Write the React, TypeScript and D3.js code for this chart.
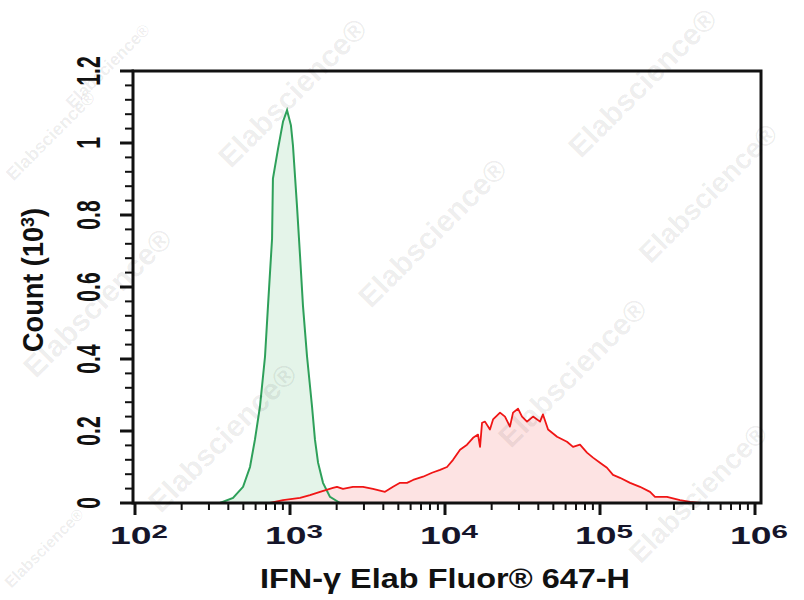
import * as d3 from "d3";

// isotype control (green)
const GREEN_X = [
  353, 429, 498, 552, 594, 640, 690, 721, 766, 776, 838, 902, 957, 1014, 1045,
  1109, 1161, 1213, 1288, 1387, 1449, 1517, 1633, 1811, 2104,
];
const GREEN_Y = [
  0, 0.014, 0.045, 0.1, 0.176, 0.268, 0.407, 0.547, 0.734, 0.901, 0.985, 1.06,
  1.091, 1.049, 0.993, 0.826, 0.686, 0.547, 0.407, 0.268, 0.176, 0.112, 0.056,
  0.017, 0,
];

// IFN-γ stained (red)
const RED_X = [
  743, 902, 1161, 1345, 1563, 1893, 2009, 2197, 2547, 2958, 3428, 4101, 4621,
  5129, 5689, 6223, 7215, 8246, 9290, 10304, 11272, 12503, 13873, 15171, 16330,
  16827, 17338, 18113, 19498, 20417, 22646, 24380, 26242, 27478, 29580, 31405,
  33806, 36983, 41020, 42855, 46238, 52845, 61235, 66988, 74303, 82414, 90157,
  100000, 110917, 121339, 134587, 156340, 181134, 210378, 226464, 270396,
  328095, 380920, 441570,
];
const RED_Y = [
  0, 0.008, 0.014, 0.022, 0.031, 0.042, 0.045, 0.039, 0.045, 0.045, 0.039,
  0.031, 0.045, 0.056, 0.056, 0.064, 0.073, 0.084, 0.092, 0.1, 0.12, 0.148,
  0.162, 0.181, 0.19, 0.156, 0.223, 0.226, 0.204, 0.232, 0.251, 0.24, 0.212,
  0.251, 0.262, 0.24, 0.226, 0.24, 0.226, 0.246, 0.204, 0.184, 0.17, 0.156,
  0.162, 0.14, 0.126, 0.112, 0.098, 0.078, 0.07, 0.056, 0.045, 0.031, 0.017,
  0.017, 0.008, 0.003, 0,
];

const Y_TICKS = [0, 0.2, 0.4, 0.6, 0.8, 1, 1.2];
const Y_LABELS = ["0", "0.2", "0.4", "0.6", "0.8", "1", "1.2"];
const X_DECADES = [2, 3, 4, 5, 6];

// watermark centre x, y and font size
const WM_X = [112, 55, 300, 650, 715, 440, 105, 580, 230, 705, 48];
const WM_Y = [70, 140, 100, 90, 200, 240, 310, 380, 445, 500, 552];
const WM_SIZE = [17, 18, 30, 30, 28, 30, 30, 30, 30, 28, 16];

// ─── Palette ──────────────────────────────────────────────────────────────────

const INK = "#111";
const GREEN = "#2ea05a";
const GREEN_FILL = "#e4f4e9";
const RED = "#f01515";
const RED_FILL = "#fde3e3";
const FONT = "'Liberation Sans', Arial, sans-serif";

// ─── Component ────────────────────────────────────────────────────────────────

export default function App() {
  const W = 804,
    H = 600;
  const left = 135,
    right = 755,
    top = 71,
    bottom = 503;

  const x = d3.scaleLog().domain([1e2, 1e6]).range([left, right]);
  const y = d3.scaleLinear().domain([0, 1.2]).range([bottom, top]);

  const green = GREEN_X.map((v, i) => [v, GREEN_Y[i]] as [number, number]);
  const red = RED_X.map((v, i) => [v, RED_Y[i]] as [number, number]);

  const area = d3
    .area<[number, number]>()
    .x((d) => x(d[0]))
    .y0(y(0))
    .y1((d) => y(d[1]));
  const line = d3
    .line<[number, number]>()
    .x((d) => x(d[0]))
    .y((d) => y(d[1]));

  const yMinor = d3.range(0, 31).map((i) => i * 0.04).filter((_, i) => i % 5 !== 0);
  const xMinor = d3
    .range(2, 6)
    .flatMap((e) => d3.range(2, 10).map((k) => k * Math.pow(10, e)));

  return (
    <svg
      width={W}
      height={H}
      style={{ position: "absolute", left: 0, top: 0, background: "#fff" }}
      fontFamily={FONT}
    >
      {/* histograms */}
      <path d={area(green)!} fill={GREEN_FILL} />
      <path d={area(red)!} fill={RED_FILL} />
      <path d={line(green)!} fill="none" stroke={GREEN} strokeWidth={2} />
      <path d={line(red)!} fill="none" stroke={RED} strokeWidth={1.8} strokeLinejoin="round" />

      {/* frame */}
      <rect
        x={133}
        y={top}
        width={761 - 133}
        height={bottom - top}
        fill="none"
        stroke={INK}
        strokeWidth={3}
      />

      {/* y ticks */}
      {Y_TICKS.map((t) => (
        <line key={"ym" + t} x1={120} x2={134} y1={y(t)} y2={y(t)} stroke={INK} strokeWidth={3} />
      ))}
      {yMinor.map((t) => (
        <line key={"yn" + t} x1={125} x2={134} y1={y(t)} y2={y(t)} stroke={INK} strokeWidth={2} />
      ))}
      {Y_TICKS.map((t, i) => (
        <text
          key={"yl" + t}
          transform={`translate(100,${y(t)}) rotate(-90) scale(0.62,1)`}
          textAnchor="middle"
          fontSize={34}
          fontWeight="bold"
          fill={INK}
        >
          {Y_LABELS[i]}
        </text>
      ))}

      {/* x ticks */}
      {X_DECADES.map((e) => (
        <line
          key={"xm" + e}
          x1={x(Math.pow(10, e))}
          x2={x(Math.pow(10, e))}
          y1={bottom}
          y2={515}
          stroke={INK}
          strokeWidth={3}
        />
      ))}
      {xMinor.map((v) => (
        <line key={"xn" + v} x1={x(v)} x2={x(v)} y1={bottom} y2={510} stroke={INK} strokeWidth={2} />
      ))}
      {X_DECADES.map((e) => (
        <text
          key={"xl" + e}
          x={x(Math.pow(10, e)) + 4}
          y={544}
          textAnchor="middle"
          fontSize={24}
          fontWeight="bold"
          fill="#15152a"
          textLength={58}
          lengthAdjust="spacingAndGlyphs"
        >
          10
          <tspan dy={-6} fontSize={19}>
            {e}
          </tspan>
        </text>
      ))}

      {/* axis titles */}
      <text
        x={445}
        y={588}
        textAnchor="middle"
        fontSize={28}
        fontWeight="bold"
        fill={INK}
        textLength={370}
        lengthAdjust="spacingAndGlyphs"
      >
        IFN-γ Elab Fluor® 647-H
      </text>
      <text
        transform="translate(43,280) rotate(-90)"
        textAnchor="middle"
        fontSize={29}
        fontWeight="bold"
        fill={INK}
        textLength={144}
        lengthAdjust="spacingAndGlyphs"
      >
        Count (10
        <tspan dy={-9} fontSize={19}>
          3
        </tspan>
        <tspan dy={9}>)</tspan>
      </text>

      {/* watermarks */}
      {WM_X.map((cx, i) => (
        <text
          key={"wm" + i}
          transform={`translate(${cx},${WM_Y[i]}) rotate(-45)`}
          textAnchor="middle"
          fontSize={WM_SIZE[i]}
          fontWeight="bold"
          fill="#000"
          fillOpacity={0.08}
        >
          Elabscience®
        </text>
      ))}
    </svg>
  );
}
